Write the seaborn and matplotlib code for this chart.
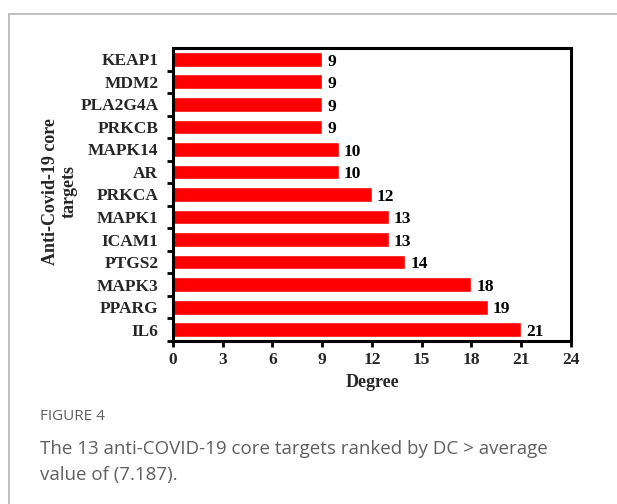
import numpy as np
import pandas as pd
import matplotlib
matplotlib.use("Agg")
from matplotlib import pyplot as plt
from matplotlib.patches import Rectangle
import seaborn as sns

# targets from top to bottom, with degree values
targets = ['KEAP1', 'MDM2', 'PLA2G4A', 'PRKCB', 'MAPK14', 'AR', 'PRKCA',
           'MAPK1', 'ICAM1', 'PTGS2', 'MAPK3', 'PPARG', 'IL6']
degree = [9, 9, 9, 9, 10, 10, 12, 13, 13, 14, 18, 19, 21]
x_ticks = [0, 3, 6, 9, 12, 15, 18, 21, 24]

df = pd.DataFrame({'Target': targets, 'Degree': degree})

sns.set_style('white')
plt.rcParams['font.family'] = ['Liberation Serif', 'DejaVu Serif']

fig = plt.figure(figsize=(6.17, 5.04), dpi=100)
ax = fig.add_axes([0.2804, 0.3234, 0.645, 0.5814])

sns.barplot(x='Degree', y='Target', data=df, order=targets, color='#ff0000',
            saturation=1, width=0.65, ax=ax)

# value labels
for i, v in enumerate(degree):
    ax.text(v + 0.3, i + 0.1, str(v), va='center', ha='left',
            fontsize=12.5, fontweight='bold', color='black')

ax.set_xlim(0, 24)
ax.set_ylim(len(targets) - 0.5, -0.5)
ax.set_xticks(x_ticks)
ax.set_xticklabels([str(t) for t in x_ticks], fontsize=12.5, fontweight='bold')
ax.set_yticks(range(len(targets)))
ax.set_yticklabels(targets, fontsize=12.5, fontweight='bold')
ax.set_yticks(np.arange(-0.5, len(targets), 1.0)[1:], minor=True)
ax.tick_params(left=True, bottom=True, which='both')
ax.tick_params(axis='y', which='major', length=0, pad=10.5)
ax.tick_params(axis='y', which='minor', length=4, width=2, direction='out', color='black')
ax.tick_params(axis='x', which='major', length=4, width=2, direction='out', pad=4, color='black')

for s in ax.spines.values():
    s.set_visible(True)
    s.set_linewidth(2.2)
    s.set_color('black')

ax.set_xlabel('Degree', fontsize=13, fontweight='bold', labelpad=4)
ax.set_ylabel('Anti-Covid-19 core\ntargets', fontsize=13, fontweight='bold',
              linespacing=1.1, labelpad=6)
ax.yaxis.set_label_coords(-0.24, 0.51)

# page frame line
fig.patches.append(Rectangle((9 / 617, -0.1), 1.2, 1 - 14 / 504 + 0.1,
                             transform=fig.transFigure, fill=False,
                             edgecolor='#b5b5b5', linewidth=1.2))

fig.text(40 / 617, 1 - 416 / 504, 'FIGURE 4', family=['Open Sans', 'DejaVu Sans'],
         fontsize=11, color='#5f5f5f', va='center', ha='left')
fig.text(40 / 617, 1 - 449 / 504, 'The 13 anti-COVID-19 core targets ranked by DC > average',
         family=['Open Sans', 'DejaVu Sans'], fontsize=13.5, color='#5f5f5f',
         va='center', ha='left')
fig.text(40 / 617, 1 - 475 / 504, 'value of (7.187).',
         family=['Open Sans', 'DejaVu Sans'], fontsize=13.5, color='#5f5f5f',
         va='center', ha='left')

fig.savefig('out.png', dpi=100)
